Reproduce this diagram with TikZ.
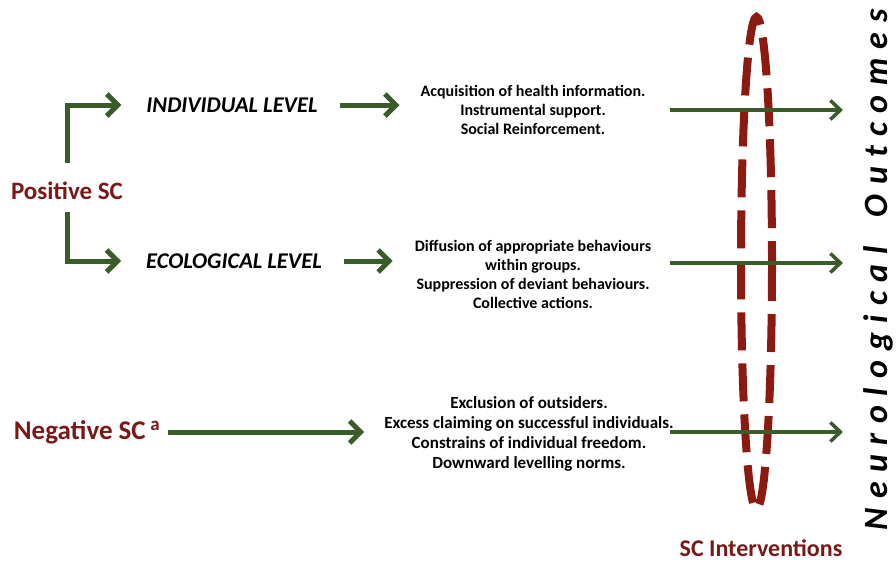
\documentclass[tikz,border=0pt]{standalone}
\usepackage{fontspec}
\setmainfont{Carlito}
\newfontfamily\spacedfont[LetterSpace=28]{Carlito}
\usetikzlibrary{arrows.meta}
\definecolor{sgreen}{RGB}{58,92,42}
\definecolor{sred}{RGB}{122,24,24}
\definecolor{ered}{RGB}{139,26,16}
\begin{document}
\begin{tikzpicture}[x=1pt,y=-1pt,
  txt/.style={inner sep=0pt},
  sclabel/.style={txt, text=sred, font=\bfseries\fontsize{25}{30}\selectfont},
  lvl/.style={txt, font=\bfseries\itshape\fontsize{22.5}{27}\selectfont},
  blk/.style={txt, align=center, font=\bfseries\fontsize{16}{19}\selectfont},
  garrow/.style={draw=sgreen, line width=5pt, -{Straight Barb[length=11pt,width=22pt]}},
  garrowthin/.style={draw=sgreen, line width=3.5pt, -{Straight Barb[length=10pt,width=19pt]}},
  edash/.style={draw=ered, line width=8pt, dash pattern=on 38pt off 13pt}
]
\useasboundingbox (0,0) rectangle (896,562);

\node[sclabel, anchor=base] (pos) at (67,199) {Positive SC};
\node[lvl] (ind) at (232,105) {INDIVIDUAL LEVEL};
\node[lvl] (eco) at (234,261) {ECOLOGICAL LEVEL};

\node[blk] (b1) at (533,110) {Acquisition of health information.\\Instrumental support.\\Social Reinforcement.};
\node[blk] (b2) at (533,274) {Diffusion of appropriate behaviours\\within groups.\\Suppression of deviant behaviours.\\Collective actions.};
\node[sclabel, font=\bfseries\fontsize{27}{32}\selectfont] (neg) at (87,432) {Negative SC\,\textsuperscript{a}};
\node[blk, font=\bfseries\fontsize{17}{19.7}\selectfont] (b3) at (529,434) {Exclusion of outsiders.\\Excess claiming on successful individuals.\\Constrains of individual freedom.\\Downward levelling norms.};

\node[txt, text=sred, font=\bfseries\fontsize{24}{29}\selectfont] (int) at (761,548) {SC Interventions};
\node[txt, anchor=base, rotate=90, font=\spacedfont\bfseries\itshape\fontsize{34}{40}\selectfont] (out) at (887,270) {Neurological\hspace{12pt} Outcomes};

% ellipse
\draw[edash] (756.5,263) ellipse [x radius=15.5, y radius=246];

% right connectors' start points
\coordinate (r1) at (670,110);
\coordinate (r2) at (670,263);
\coordinate (r3) at (670,432);

% left connectors
\draw[garrow, shorten <=18pt, shorten >=25pt] (pos.north) |- (ind.west);
\draw[garrow, shorten <=13pt, shorten >=25pt] (pos.south) |- (eco.west);
\draw[garrow, shorten <=22pt, shorten >=21pt] (ind.east) -- (ind.east -| b1.west);
\draw[garrow, shorten <=22pt, shorten >=22pt] (eco.east) -- (eco.east -| b2.west);
\draw[garrow, shorten <=8pt, shorten >=20pt] (neg.east |- r3) -- (r3 -| b3.west);

% right connectors
\draw[garrowthin, shorten >=20pt] (r1) -- (r1 -| out.north);
\draw[garrowthin, shorten >=20pt] (r2) -- (r2 -| out.north);
\draw[garrowthin, shorten >=20pt] (r3) -- (r3 -| out.north);
\end{tikzpicture}
\end{document}
